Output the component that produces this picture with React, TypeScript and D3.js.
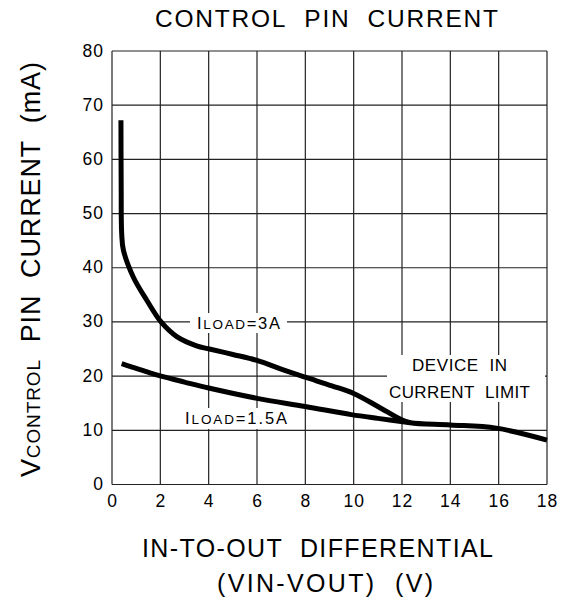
import React from "react";
import * as d3 from "d3";

const xTicks = [0, 2, 4, 6, 8, 10, 12, 14, 16, 18];
const yTicks = [0, 10, 20, 30, 40, 50, 60, 70, 80];

const load3A_x = [0.37, 0.38, 0.4, 0.47, 0.88, 1.44, 2.03, 2.68, 3.5, 4.03, 5.0, 6.0, 7.0, 8.0, 9.1, 10.0, 11.0, 12.0, 12.35, 14.0, 15.9, 18.0];
const load3A_y = [67.2, 55.0, 46.4, 43.3, 38.3, 34.0, 30.0, 27.3, 25.6, 25.0, 24.0, 22.9, 21.3, 19.8, 18.2, 16.8, 14.4, 11.9, 11.4, 11.0, 10.4, 8.2];

const load15A_x = [0.4, 1.57, 2.03, 3.0, 4.0, 6.0, 8.0, 9.9, 11.0, 12.35];
const load15A_y = [22.3, 20.6, 20.0, 18.9, 17.8, 15.9, 14.4, 12.9, 12.2, 11.4];

const FONT = "'Liberation Sans', Arial, sans-serif";
const SP = "\u00a0\u00a0";

export default function App() {
  const W = 572, H = 602;
  const x = d3.scaleLinear().domain([0, 18]).range([112, 547]);
  const y = d3.scaleLinear().domain([0, 80]).range([484.5, 51]);

  const line = d3
    .line<[number, number]>()
    .x((d) => x(d[0]))
    .y((d) => y(d[1]))
    .curve(d3.curveCatmullRom.alpha(0.5));

  const s3 = load3A_x.map((v, i) => [v, load3A_y[i]] as [number, number]);
  const s15 = load15A_x.map((v, i) => [v, load15A_y[i]] as [number, number]);

  const gridColor = "#222";

  return (
    <svg
      width={W}
      height={H}
      viewBox={`0 0 ${W} ${H}`}
      style={{ position: "absolute", left: 0, top: 0, background: "#fff" }}
      fontFamily={FONT}
    >
      <rect x={0} y={0} width={W} height={H} fill="#fff" />
      {/* title */}
      <text x={155} y={27} fontSize={24.5} textLength={343} lengthAdjust="spacing" fill="#000">
        {`CONTROL${SP}PIN${SP}CURRENT`}
      </text>

      {/* grid */}
      <g stroke={gridColor} strokeWidth={1.2}>
        {xTicks.map((t) => (
          <line key={"gx" + t} x1={x(t)} x2={x(t)} y1={y(0)} y2={y(80)} />
        ))}
        {yTicks.map((t) => (
          <line key={"gy" + t} x1={x(0)} x2={x(18)} y1={y(t)} y2={y(t)} />
        ))}
      </g>

      {/* white masks behind labels */}
      <g fill="#fff">
        <rect x={190} y={313} width={97} height={20} />
        <rect x={181} y={408} width={109} height={21} />
        <rect x={387} y={355} width={158} height={47} />
      </g>

      {/* curves */}
      <g fill="none" stroke="#000" strokeWidth={5} strokeLinejoin="round" strokeLinecap="butt">
        <path d={line(s3) || ""} />
        <path d={line(s15) || ""} />
      </g>

      {/* tick labels */}
      <g fontSize={17.5} fill="#000">
        {yTicks.map((t) => (
          <text key={"ty" + t} x={104} y={y(t) + 5.5} textAnchor="end" letterSpacing={1}>
            {t}
          </text>
        ))}
        {xTicks.map((t) => (
          <text key={"tx" + t} x={x(t) + 0.5} y={507} textAnchor="middle" letterSpacing={1}>
            {t}
          </text>
        ))}
      </g>

      {/* curve labels */}
      <text x={197} y={329} fontSize={16.5} fill="#000" textLength={83} lengthAdjust="spacing">
        I<tspan fontSize={13.5}>LOAD</tspan>=3A
      </text>
      <text x={185} y={424} fontSize={16.5} fill="#000" textLength={102} lengthAdjust="spacing">
        I<tspan fontSize={13.5}>LOAD</tspan>=1.5A
      </text>
      <text x={412} y={371} fontSize={17} fill="#000" textLength={95} lengthAdjust="spacing">
        {`DEVICE${SP}IN`}
      </text>
      <text x={389} y={398} fontSize={17} fill="#000" textLength={141} lengthAdjust="spacing">
        {`CURRENT${SP}LIMIT`}
      </text>

      {/* x axis title */}
      <text x={142} y={557} fontSize={25} fill="#000" textLength={351} lengthAdjust="spacing">
        {`IN-TO-OUT${SP}DIFFERENTIAL`}
      </text>
      <text x={217} y={592} fontSize={25} fill="#000" textLength={216} lengthAdjust="spacing">
        {`(VIN-VOUT)${SP}(V)`}
      </text>

      {/* y axis title */}
      <text
        transform="translate(40,477) rotate(-90)"
        x={0}
        y={0}
        fontSize={27}
        fill="#000"
        textLength={415}
        lengthAdjust="spacing"
      >
        V<tspan fontSize={19}>CONTROL</tspan>
        {`${SP}PIN${SP}CURRENT${SP}(mA)`}
      </text>
    </svg>
  );
}
